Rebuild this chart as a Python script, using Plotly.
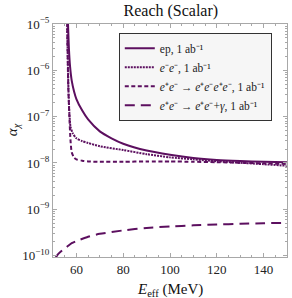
import numpy as np
import plotly.graph_objects as go

E_ep = [56.3, 56.8, 57.3, 58, 59, 60, 62.5, 65, 70, 75, 80, 90, 100, 110, 120, 130, 140, 150]
a_ep = [1.5e-5, 3e-6, 1.2e-6, 6e-7, 3.5e-7, 2.4e-7, 1.35e-7, 8.7e-8, 4.8e-8, 3.4e-8, 2.6e-8,
        1.85e-8, 1.5e-8, 1.28e-8, 1.16e-8, 1.1e-8, 1.06e-8, 1.03e-8]

E_ee = [56.0, 56.3, 56.6, 57.0, 57.5, 58.5, 60, 62.5, 65, 70, 80, 90, 100, 110, 120, 130, 140, 150]
a_ee = [1.5e-5, 2e-6, 4e-7, 1.2e-7, 6e-8, 4.3e-8, 3.4e-8, 2.95e-8, 2.7e-8, 2.3e-8, 1.9e-8,
        1.55e-8, 1.32e-8, 1.2e-8, 1.09e-8, 1.01e-8, 0.94e-8, 0.87e-8]

E_4l = [56.0, 56.5, 57.0, 57.5, 58, 59, 60, 62.5, 65, 70, 80, 90, 100, 110, 120, 130, 140, 150]
a_4l = [1.5e-5, 5e-7, 1e-7, 3e-8, 1.7e-8, 1.3e-8, 1.2e-8, 1.12e-8, 1.08e-8, 1.06e-8, 1.06e-8,
        1.08e-8, 1.08e-8, 1.06e-8, 1.04e-8, 1.01e-8, 0.98e-8, 0.95e-8]

E_g = [51.0, 52, 54, 56, 58, 60, 65, 70, 80, 90, 100, 110, 120, 130, 140, 150]
a_g = [0.88e-10, 1.05e-10, 1.3e-10, 1.55e-10, 1.85e-10, 2.05e-10, 2.55e-10, 2.95e-10, 3.5e-10,
       3.95e-10, 4.25e-10, 4.5e-10, 4.7e-10, 4.85e-10, 5.0e-10, 5.1e-10]

names = [
    "ep, 1 ab⁻¹",
    "<i>e</i>⁻<i>e</i>⁻, 1 ab⁻¹",
    "<i>e</i>⁺<i>e</i>⁻ → <i>e</i>⁺<i>e</i>⁻<i>e</i>⁺<i>e</i>⁻, 1 ab⁻¹",
    "<i>e</i>⁺<i>e</i>⁻ → <i>e</i>⁺<i>e</i>⁻+<i>γ</i>, 1 ab⁻¹",
]

x_ticks = [60, 80, 100, 120, 140]
y_ticks = [-10, -9, -8, -7, -6, -5]
y_ticktext = ["10<sup>−%d</sup>" % (-v) for v in y_ticks]

color = "#5c0f5f"
series = [(E_ep, a_ep, "solid"), (E_ee, a_ee, "2px,1px"), (E_4l, a_4l, "4px,2.5px"),
          (E_g, a_g, "10px,6px")]

fig = go.Figure()
for (xs, ys, dash), nm in zip(series, names):
    fig.add_trace(go.Scatter(x=xs, y=ys, mode="lines", name=nm,
                             line=dict(color=color, width=2, dash=dash, shape="spline", smoothing=0.6)))

serif = "Liberation Serif, Times New Roman, serif"
minor_y = [np.log10(k) + d for d in range(-11, -4) for k in range(2, 10)]
minor_y = [10 ** v for v in minor_y if -10 < v < -5]

axis_common = dict(showgrid=False, zeroline=False, showline=True, linecolor="#a8a8a8",
                   linewidth=1, mirror="allticks", ticks="inside", tickcolor="#a8a8a8",
                   ticklen=4, automargin=False,
                   tickfont=dict(family=serif, size=13, color="#222"))

fig.update_layout(
    width=292, height=298,
    margin=dict(l=53, r=5, t=24, b=41),
    paper_bgcolor="white", plot_bgcolor="white",
    title=dict(text="Reach (Scalar)", x=0.585, xanchor="center", y=0.965, yanchor="middle",
               font=dict(family=serif, size=16, color="#111")),
    xaxis=dict(range=[50, 150], tickvals=x_ticks,
               minor=dict(dtick=5, ticks="inside", ticklen=2, tickcolor="#a8a8a8"),
               **axis_common),
    yaxis=dict(type="log", range=[-10.03, -5], tickvals=[10 ** v for v in y_ticks], ticktext=y_ticktext,
               minor=dict(tickvals=minor_y, ticks="inside", ticklen=2, tickcolor="#a8a8a8"),
               **axis_common),
    legend=dict(x=0.935, xanchor="right", y=0.962, yanchor="top",
                bgcolor="#f6f6f6", bordercolor="#333", borderwidth=1,
                font=dict(family=serif, size=11.5, color="#222"),
                tracegroupgap=0, itemwidth=30),
    showlegend=True,
)
fig.add_annotation(text="<i>E</i><sub>eff</sub> (MeV)", x=0.5, xref="paper", xanchor="center",
                   y=-0.095, yref="paper", yanchor="top", showarrow=False,
                   font=dict(family=serif, size=15, color="#111"))
fig.add_annotation(text="<i>α</i><sub><i>χ</i></sub>", x=-0.17, xref="paper", xanchor="center",
                   y=0.545, yref="paper", yanchor="middle", showarrow=False, textangle=-90,
                   font=dict(family=serif, size=15, color="#111"))

fig.write_html("out.html", config={"displayModeBar": False},
               post_script="document.body.style.margin='0';")
